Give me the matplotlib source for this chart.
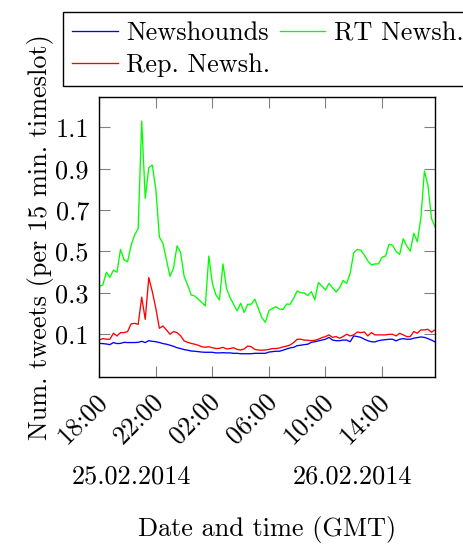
import matplotlib
matplotlib.use("Agg")
import matplotlib.pyplot as plt
import matplotlib.dates as mdates
import matplotlib.transforms as mtransforms
import pandas as pd
import numpy as np

plt.rcParams['font.family'] = ['cmr10', 'DejaVu Serif']
plt.rcParams['axes.formatter.use_mathtext'] = True
plt.rcParams['mathtext.fontset'] = 'cm'

# 15-minute timeslots starting 25.02.2014 18:00 (GMT)
slots = pd.date_range("2014-02-25 18:00", periods=96, freq="15min")

newshounds = [0.056, 0.055, 0.053, 0.050, 0.060, 0.055, 0.056, 0.061, 0.060, 0.060,
              0.060, 0.061, 0.066, 0.060, 0.069, 0.066, 0.064, 0.060, 0.055, 0.052,
              0.047, 0.042, 0.035, 0.031, 0.026, 0.023, 0.019, 0.018, 0.016, 0.014,
              0.013, 0.013, 0.013, 0.010, 0.010, 0.011, 0.010, 0.010, 0.008, 0.008,
              0.006, 0.006, 0.006, 0.006, 0.008, 0.008, 0.008, 0.008, 0.014, 0.016,
              0.018, 0.018, 0.023, 0.029, 0.034, 0.037, 0.045, 0.047, 0.050, 0.052,
              0.061, 0.064, 0.068, 0.072, 0.076, 0.085, 0.072, 0.069, 0.069, 0.072,
              0.072, 0.064, 0.092, 0.089, 0.085, 0.076, 0.069, 0.064, 0.063, 0.069,
              0.072, 0.074, 0.076, 0.076, 0.068, 0.076, 0.079, 0.076, 0.076, 0.081,
              0.084, 0.087, 0.085, 0.079, 0.072, 0.063]

rt_newsh = [0.333, 0.338, 0.400, 0.375, 0.410, 0.400, 0.510, 0.460, 0.450, 0.530,
            0.580, 0.610, 1.130, 0.757, 0.905, 0.918, 0.800, 0.570, 0.540, 0.460,
            0.380, 0.420, 0.527, 0.496, 0.380, 0.338, 0.290, 0.285, 0.270, 0.253,
            0.237, 0.478, 0.346, 0.290, 0.266, 0.440, 0.322, 0.277, 0.245, 0.213,
            0.250, 0.205, 0.245, 0.245, 0.270, 0.225, 0.180, 0.158, 0.214, 0.225,
            0.233, 0.222, 0.220, 0.246, 0.245, 0.274, 0.310, 0.300, 0.300, 0.287,
            0.306, 0.266, 0.350, 0.333, 0.314, 0.346, 0.325, 0.304, 0.325, 0.360,
            0.346, 0.395, 0.494, 0.510, 0.507, 0.483, 0.454, 0.435, 0.440, 0.440,
            0.472, 0.478, 0.535, 0.530, 0.500, 0.486, 0.562, 0.527, 0.502, 0.588,
            0.547, 0.660, 0.889, 0.820, 0.660, 0.620]

rep_newsh = [0.072, 0.079, 0.076, 0.076, 0.105, 0.092, 0.108, 0.108, 0.113, 0.150,
             0.153, 0.148, 0.279, 0.172, 0.374, 0.306, 0.225, 0.129, 0.140, 0.121,
             0.100, 0.113, 0.108, 0.093, 0.068, 0.061, 0.056, 0.052, 0.047, 0.040,
             0.037, 0.040, 0.035, 0.031, 0.032, 0.037, 0.029, 0.031, 0.035, 0.027,
             0.024, 0.029, 0.043, 0.040, 0.027, 0.024, 0.023, 0.024, 0.027, 0.031,
             0.031, 0.034, 0.039, 0.043, 0.048, 0.060, 0.076, 0.076, 0.072, 0.071,
             0.069, 0.071, 0.076, 0.084, 0.089, 0.097, 0.085, 0.089, 0.081, 0.089,
             0.100, 0.092, 0.097, 0.111, 0.108, 0.111, 0.092, 0.108, 0.097, 0.097,
             0.097, 0.097, 0.100, 0.100, 0.092, 0.105, 0.097, 0.089, 0.089, 0.113,
             0.105, 0.121, 0.121, 0.124, 0.110, 0.121]

y_ticks = [0.1, 0.3, 0.5, 0.7, 0.9, 1.1]
y_ticklabels = ["0.1", "0.3", "0.5", "0.7", "0.9", "1.1"]
x_ticks = pd.to_datetime(["2014-02-25 18:00", "2014-02-25 22:00", "2014-02-26 02:00",
                          "2014-02-26 06:00", "2014-02-26 10:00", "2014-02-26 14:00"])
date_labels = ["25.02.2014", "26.02.2014"]

FS = 18.9
W, H = 464, 546
fig = plt.figure(figsize=(W / 100, H / 100), dpi=100)
ax = fig.add_axes([99.3 / W, 1 - 376.7 / H, (435 - 99.3) / W, (376.7 - 97.3) / H])

l1, = ax.plot(slots, newshounds, color='#0000ff', lw=0.95, label='Newshounds')
l3, = ax.plot(slots, rep_newsh, color='#ff0000', lw=0.95, label='Rep. Newsh.')
l2, = ax.plot(slots, rt_newsh, color='#00ff00', lw=0.95, label='RT Newsh.')

ax.set_xlim(slots[0], slots[-1])
ax.set_ylim(-0.105, 1.245)
ax.set_yticks(y_ticks)
ax.set_yticklabels(y_ticklabels, fontsize=FS)
ax.set_xticks(x_ticks)
ax.xaxis.set_major_formatter(mdates.DateFormatter('%H:%M'))
ax.tick_params(axis='both', which='major', direction='in', length=7.9, width=0.8,
               color='0.5', top=True, right=True, labelsize=FS)
ax.tick_params(axis='y', pad=7.5)
ax.tick_params(axis='x', pad=15)
shift = mtransforms.ScaledTranslation(4 / 100, 0, fig.dpi_scale_trans)
for lab in ax.get_xticklabels():
    lab.set_rotation(45)
    lab.set_ha('right')
    lab.set_va('center')
    lab.set_rotation_mode('anchor')
    lab.set_transform(lab.get_transform() + shift)
for sp in ax.spines.values():
    sp.set_linewidth(1.0)
    sp.set_color('black')

ax.set_ylabel("Num. tweets (per 15 min. timeslot)", fontsize=FS)
ax.yaxis.set_label_coords(-0.135, 0.5)
ax.set_xlabel("Date and time (GMT)", fontsize=FS)
ax.xaxis.set_label_coords(0.5, -0.50)

for xf, txt in zip([0.097, 0.753], date_labels):
    ax.text(xf, -0.358, txt, transform=ax.transAxes, ha='center', va='center', fontsize=FS)

leg = fig.legend([l1, l3, l2], ['Newshounds', 'Rep. Newsh.', 'RT Newsh.'], ncol=2,
                 loc='upper left', bbox_to_anchor=(63 / W, 1 - 12 / H), borderaxespad=0,
                 fontsize=FS, handlelength=1.72, handletextpad=0.33, columnspacing=0.38,
                 labelspacing=0.3, borderpad=0.36, fancybox=False, framealpha=1,
                 edgecolor='black')
leg.get_frame().set_linewidth(1.0)

fig.savefig("out.png", dpi=100)
